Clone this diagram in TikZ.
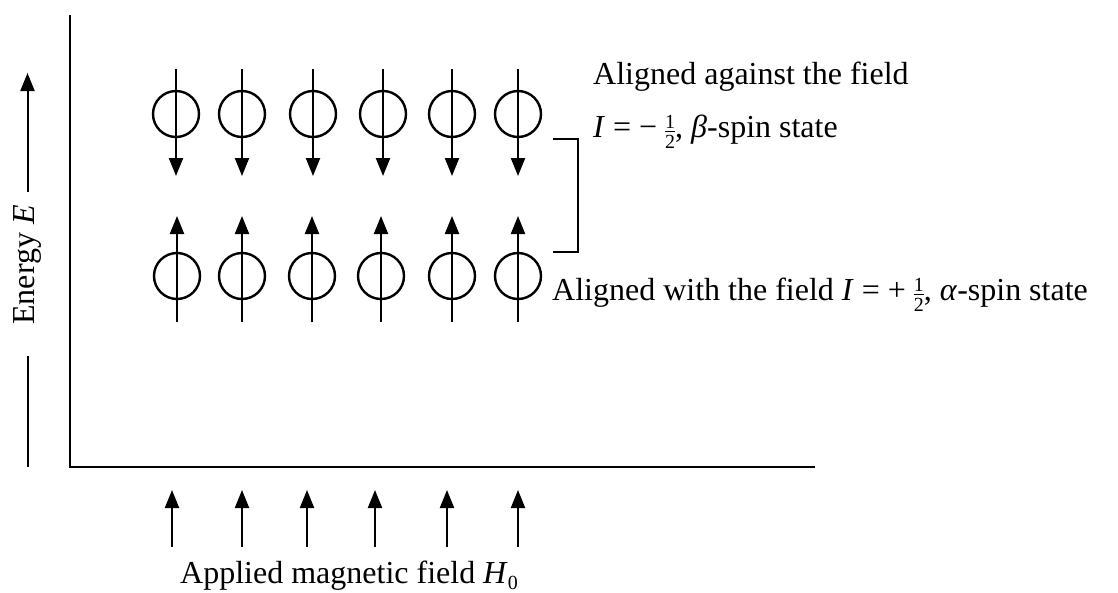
\documentclass[tikz,border=0pt]{standalone}
\usepackage{fontspec}
\setmainfont{Liberation Serif}
\usetikzlibrary{arrows.meta}
\newcommand\stackfrac[2]{\leavevmode\raisebox{-11pt}{\fontsize{20}{20}\selectfont
  \vbox{\offinterlineskip\halign{\hfil##\hfil\cr #1\cr\noalign{\vskip2.5pt\hrule height1.2pt\vskip2.5pt}#2\cr}}}}
\newcommand\subzero{\raisebox{-6pt}{\fontsize{20}{20}\selectfont 0}}
\begin{document}
\begin{tikzpicture}[x=1pt,y=-1pt,
  spin/.style={circle, draw, line width=2.4pt, minimum size=46pt, inner sep=0pt},
  ln/.style={line width=2.2pt},
  tipd/.style={ln,-{Triangle[length=18pt,width=14pt]}},
  lbl/.style={inner sep=0pt, font=\fontsize{32}{38}\selectfont}]
\useasboundingbox (0,0) rectangle (1118,592);
% axes
\coordinate (axtop) at (70,15);
\coordinate (orig) at (70,467);
\coordinate (axright) at (815,467);
\draw[line width=2.6pt] (axtop) -- (orig) -- (axright);
% energy arrow and label
\coordinate (ea) at (27.5,192);
\coordinate (eb) at (27.5,73);
\coordinate (ec) at (27.5,356);
\coordinate (ed) at (27.5,467);
\draw[tipd, line width=2pt] (ea) -- (eb);
\draw[line width=2pt] (ec) -- (ed);
\node[lbl, rotate=90] (energy) at (27.5,265) {Energy \textit{E}};
% upper row: beta spins
\foreach \x [count=\i] in {176,242,313,383,452,518} {
  \node[spin] (up\i) at (\x,114) {};
  \coordinate (ut\i) at (\x,69);
  \coordinate (ub\i) at (\x,176);
  \draw[tipd] (ut\i) -- (ub\i);
}
% lower row: alpha spins
\foreach \x [count=\i] in {177,242,312,381,452,518} {
  \node[spin] (lo\i) at (\x,276) {};
  \coordinate (lt\i) at (\x,322);
  \coordinate (lb\i) at (\x,216);
  \draw[tipd] (lt\i) -- (lb\i);
}
% field arrows
\foreach \x [count=\i] in {172,242,307,375,447,518} {
  \coordinate (fa\i) at (\x,547);
  \coordinate (fb\i) at (\x,490);
  \draw[tipd] (fa\i) -- (fb\i);
}
% bracket
\coordinate (b1) at (553,139);
\coordinate (b2) at (578,139);
\coordinate (b3) at (578,252);
\coordinate (b4) at (553,252);
\draw[ln] (b1) -- (b2) -- (b3) -- (b4);
% labels
\node[lbl, anchor=base west] (against) at (593,84) {Aligned against the field};
\node[lbl, anchor=base west] (beta) at (593,137) {\textit{I} = − \stackfrac{1}{2}, \textit{β}-spin state};
\node[lbl, anchor=base west] (with) at (552,300) {Aligned with the field \textit{I} = + \stackfrac{1}{2}, \textit{α}-spin state};
\node[lbl, anchor=base] (field) at (349,583) {Applied magnetic field \textit{H}\subzero};
\end{tikzpicture}
\end{document}
